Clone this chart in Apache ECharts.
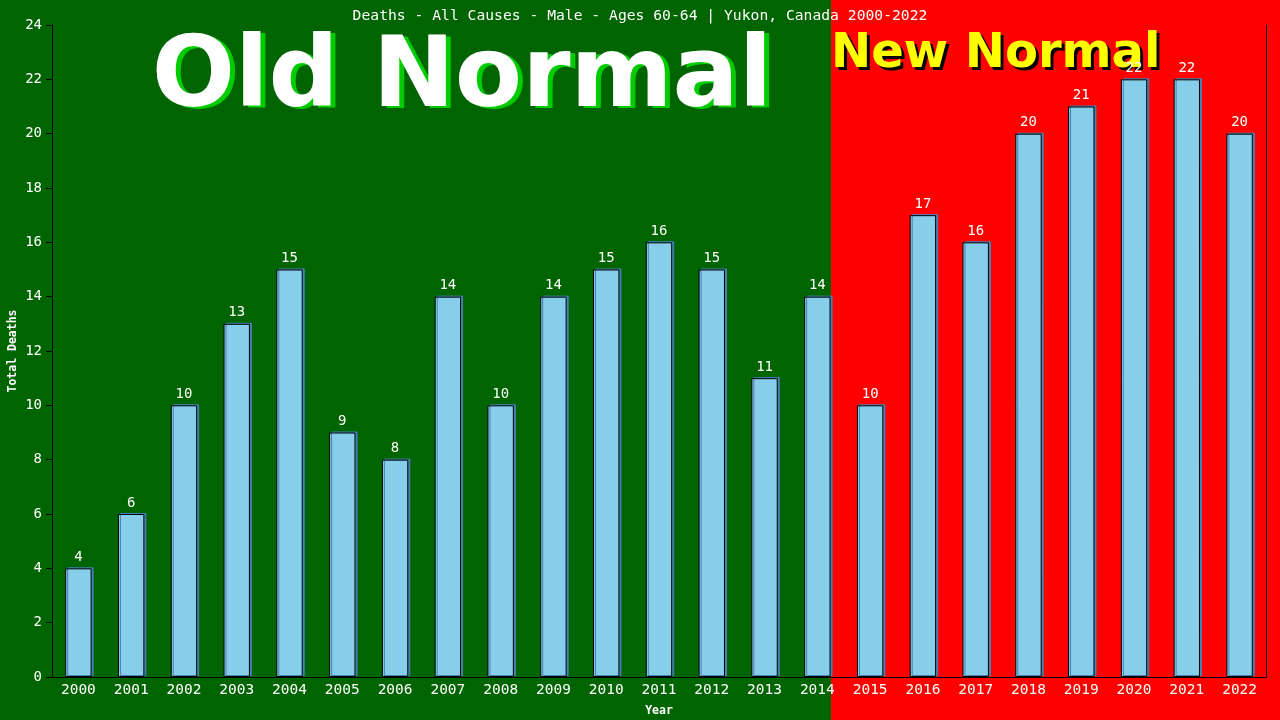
<!DOCTYPE html>
<html>
<head>
<meta charset="utf-8">
<script src="https://cdn.jsdelivr.net/npm/echarts@6/dist/echarts.min.js"></script>
<style>html,body{margin:0;padding:0;background:#006400;}#c{width:1280px;height:720px;}</style>
</head>
<body>
<div id="c"></div>
<script>
const years = ['2000','2001','2002','2003','2004','2005','2006','2007','2008','2009','2010','2011','2012','2013','2014','2015','2016','2017','2018','2019','2020','2021','2022'];
const deaths = [4,6,10,13,15,9,8,14,10,14,15,16,15,11,14,10,17,16,20,21,22,22,20];
const lastOldYear = '2014';
const titleText = 'Deaths - All Causes - Male - Ages 60-64 | Yukon, Canada 2000-2022';

const mono = 'DejaVu Sans Mono';
const chart = echarts.init(document.getElementById('c'), null, {renderer: 'canvas'});

function shadowText(text, x, y, font, fill, shadow, dx, dy, align) {
  return [
    {type: 'text', z: -60, silent: true, x: x + dx, y: y + dy,
      style: {text: text, fill: shadow, font: font, align: align, verticalAlign: 'middle'}},
    {type: 'text', z: -50, silent: true, x: x, y: y,
      style: {text: text, fill: fill, font: font, align: align, verticalAlign: 'middle'}}
  ];
}

function buildGraphics(splitX) {
  return [
    {type: 'rect', z: -100, silent: true, shape: {x: splitX, y: 0, width: 1280 - splitX, height: 720}, style: {fill: '#ff0000'}}
  ].concat(
    shadowText('Old Normal', 462, 81, 'bold 98px "DejaVu Sans"', '#ffffff', '#00cc00', 5, 2, 'center'),
    shadowText('New Normal', 831, 55, 'bold 48px "DejaVu Sans"', '#ffff00', '#000000', 3, 3, 'left')
  );
}

const option = {
  backgroundColor: '#006400',
  animation: false,
  title: {
    text: titleText, left: 'center', top: 4,
    textStyle: {color: '#ffffff', fontFamily: mono, fontSize: 14.7, fontWeight: 'normal'}
  },
  grid: {left: 52, right: 14, top: 25, bottom: 43, containLabel: false, outerBoundsMode: 'none'},
  xAxis: {
    type: 'category', data: years,
    name: 'Year', nameLocation: 'middle', nameGap: 28, nameMoveOverlap: false,
    nameTextStyle: {color: '#ffffff', fontFamily: mono, fontSize: 11.5, fontWeight: 'bold'},
    axisLine: {show: true, lineStyle: {color: '#000000', width: 1}},
    axisTick: {show: false},
    axisLabel: {color: '#ffffff', fontFamily: mono, fontSize: 14.5, margin: 6, interval: 0}
  },
  yAxis: [{
    type: 'value', min: 0, max: 24, interval: 2,
    name: 'Total Deaths', nameLocation: 'middle', nameGap: 33, nameRotate: 90, nameMoveOverlap: false,
    nameTextStyle: {color: '#ffffff', fontFamily: mono, fontSize: 11.5, fontWeight: 'bold'},
    axisLine: {show: true, lineStyle: {color: '#000000', width: 1}},
    axisTick: {show: true, length: 6, lineStyle: {color: '#000000'}},
    axisLabel: {color: '#ffffff', fontFamily: mono, fontSize: 14, margin: 10},
    splitLine: {show: false}
  }, {
    type: 'value', min: 0, max: 24, interval: 2, position: 'right',
    axisLine: {show: true, lineStyle: {color: '#000000', width: 1}},
    axisTick: {show: false}, axisLabel: {show: false}, splitLine: {show: false}
  }],
  series: [{
    type: 'bar', data: deaths, barWidth: '50%', z: 5,
    itemStyle: {color: '#87ceeb', borderColor: '#000000', borderWidth: 1,
      shadowColor: '#4682b4', shadowOffsetX: 2, shadowOffsetY: -1, shadowBlur: 0},
    label: {show: true, position: 'top', distance: 4, color: '#ffffff', fontFamily: mono, fontSize: 14}
  }],
  graphic: buildGraphics(830)
};
chart.setOption(option);

// place the old/new boundary at the right edge of the last "old normal" bar
const cx = chart.convertToPixel({xAxisIndex: 0}, lastOldYear);
const cx2 = chart.convertToPixel({xAxisIndex: 0}, years[years.indexOf(lastOldYear) + 1]);
const splitX = Math.round(cx + (cx2 - cx) * 0.25);
chart.setOption({graphic: buildGraphics(splitX)}, {replaceMerge: ['graphic']});
</script>
</body>
</html>
